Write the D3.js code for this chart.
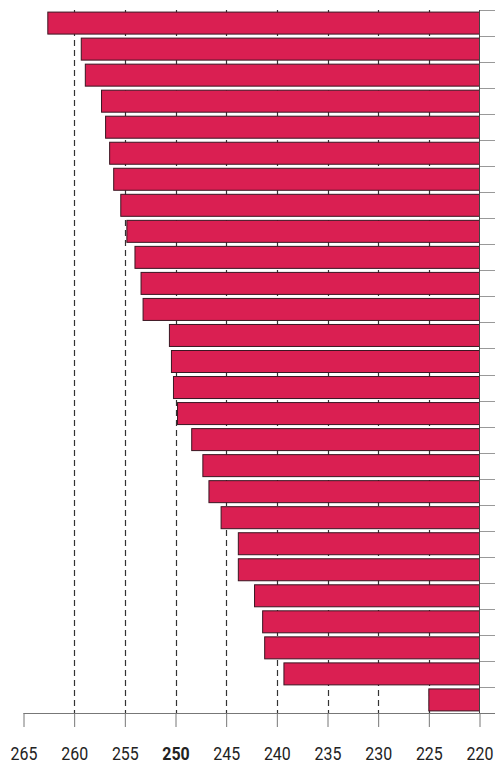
<!DOCTYPE html>
<html>
<head>
<meta charset="utf-8">
<script src="https://cdn.jsdelivr.net/npm/d3@7"></script>
<style>
  body { margin: 0; background: #fff; }
  svg { display: block; }
  .tick text { font-family: Roboto, "DejaVu Sans", sans-serif; }
</style>
</head>
<body>
<div id="chart"></div>
<script>
// ranks, top to bottom (no labels shown on the chart)
var ranks = d3.range(1, 28).map(String);
var scores = [262.6, 259.3, 258.9, 257.3, 256.9, 256.5, 256.1, 255.4, 254.8, 254.0,
              253.4, 253.2, 250.6, 250.4, 250.2, 249.8, 248.4, 247.3, 246.7, 245.5,
              243.8, 243.8, 242.2, 241.4, 241.2, 239.3, 225.0];
var xTicks = [265, 260, 255, 250, 245, 240, 235, 230, 225, 220];
var gridTicks = [260, 255, 250, 245, 240, 235, 230, 225];
var boldTick = 250;

var width = 495, height = 764;
var plotLeft = 23.5, plotRight = 479.5, plotTop = 10, plotBottom = 713;

var svg = d3.select("#chart").append("svg")
    .attr("width", width)
    .attr("height", height);

var x = d3.scaleLinear().domain([265, 220]).range([plotLeft, plotRight]);
var y = d3.scaleBand().domain(ranks).range([plotTop, plotBottom]).paddingInner(0.155).paddingOuter(0.08);

// dashed gridlines behind the bars
svg.selectAll("line.grid")
   .data(gridTicks)
   .enter()
   .append("line")
   .attr("class", "grid")
   .attr("x1", function(d) { return Math.round(x(d)) + 0.5; })
   .attr("x2", function(d) { return Math.round(x(d)) + 0.5; })
   .attr("y1", plotTop)
   .attr("y2", plotBottom)
   .attr("stroke", "#333")
   .attr("stroke-width", 1.2)
   .attr("stroke-dasharray", "6,4");

// right side ticks at band boundaries
var bounds = ranks.map(function(d) { return y(d) - y.step() * y.paddingInner() / 2; });
svg.selectAll("line.rtick")
   .data(bounds)
   .enter()
   .append("line")
   .attr("class", "rtick")
   .attr("x1", plotRight)
   .attr("x2", width)
   .attr("y1", function(d) { return Math.round(d) + 0.5; })
   .attr("y2", function(d) { return Math.round(d) + 0.5; })
   .attr("stroke", "#999");

svg.selectAll("rect.bar")
   .data(scores)
   .enter()
   .append("rect")
   .attr("class", "bar")
   .attr("x", function(d) { return x(d); })
   .attr("y", function(d, i) { return y(ranks[i]); })
   .attr("width", function(d) { return x(220) - x(d); })
   .attr("height", y.bandwidth())
   .attr("fill", "#DA1F52")
   .attr("stroke", "#3a1622")
   .attr("stroke-width", 1);

// right vertical axis line
svg.append("line")
   .attr("x1", plotRight).attr("x2", plotRight)
   .attr("y1", plotTop).attr("y2", plotBottom)
   .attr("stroke", "#444");

// bottom axis
var xAxis = d3.axisBottom(x)
    .tickValues(xTicks)
    .tickSize(14)
    .tickPadding(19.5)
    .tickFormat(d3.format("d"));

var gx = svg.append("g")
    .attr("transform", "translate(0," + plotBottom + ")")
    .call(xAxis);

gx.select(".domain").remove();
gx.append("line")
  .attr("x1", plotLeft).attr("x2", width)
  .attr("y1", 0.5).attr("y2", 0.5)
  .attr("stroke", "#777");
gx.selectAll(".tick line").attr("stroke", "#777");
// condensed look: squeeze the labels horizontally
gx.selectAll(".tick text")
  .attr("fill", "#222")
  .attr("transform", "scale(0.84,1)")
  .style("font-size", "19px")
  .style("font-weight", function(d) { return d === boldTick ? "bold" : "normal"; });
</script>
</body>
</html>
